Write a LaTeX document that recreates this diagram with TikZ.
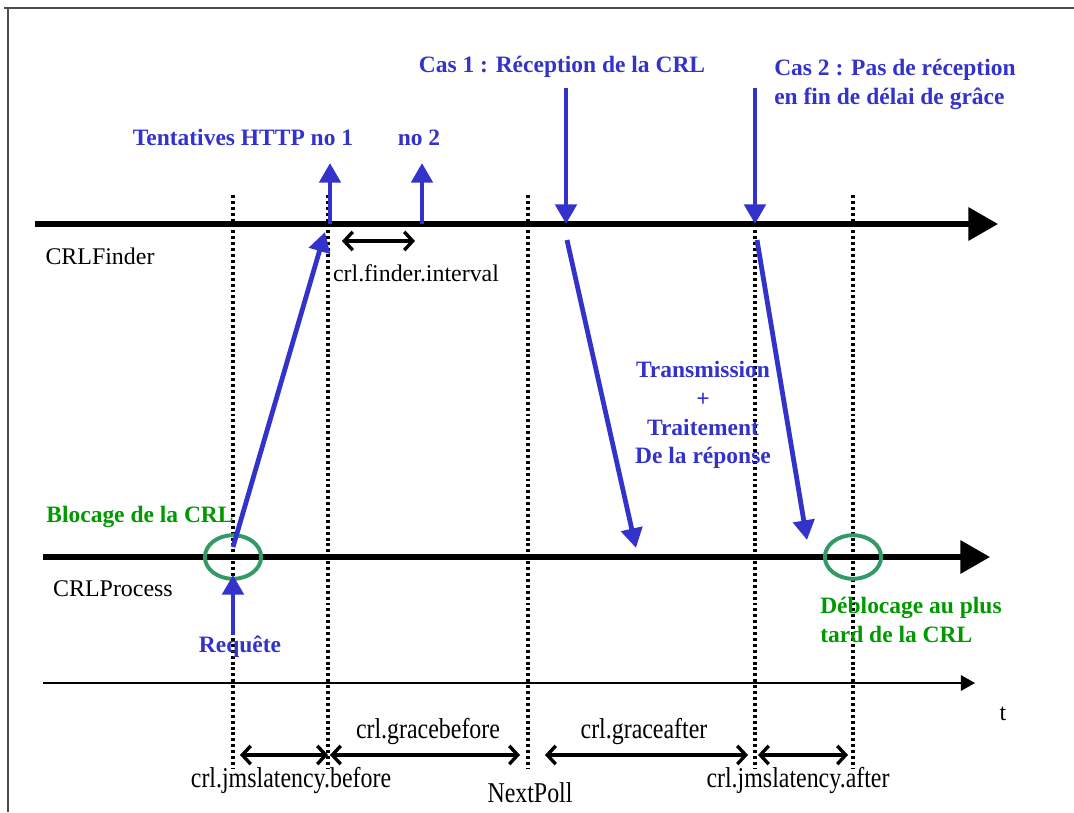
\documentclass[tikz,border=0pt]{standalone}
\usepackage{fontspec}
\setmainfont{Liberation Serif}
\usepackage{graphicx}
\usetikzlibrary{arrows.meta,positioning,shapes.geometric}

\definecolor{crlblue}{RGB}{51,51,204}
\definecolor{crlgreen}{RGB}{0,153,0}
\definecolor{ringgreen}{RGB}{51,153,102}

\newcommand{\tall}[1]{\scalebox{1}[1.2]{#1}}

\begin{document}
\begin{tikzpicture}[
  x=0.025cm, y=-0.025cm,
  every node/.style={
    inner sep=0pt,
  },
  lbl/.style={font=\fontsize{17}{20}\selectfont},
  bleu/.style={font=\bfseries\fontsize{16.7}{20.5}\selectfont, text=crlblue},
  vert/.style={font=\bfseries\fontsize{16.7}{20.5}\selectfont, text=crlgreen},
  ligne/.style={line width=3.6pt, -{Triangle[length=21pt,width=23pt]}},
  axe/.style={line width=1.1pt, -{Triangle[length=10pt,width=11pt]}},
  fleche/.style={crlblue, line width=3.4pt, -{Triangle[length=14pt,width=15pt]}},
  duree/.style={line width=2.4pt, {Straight Barb[length=6pt,width=13pt]}-{Straight Barb[length=6pt,width=13pt]}},
  pointille/.style={line width=2.4pt, dash pattern=on 2.1pt off 2.1pt},
  anneau/.style={draw=ringgreen, line width=2.8pt, ellipse, minimum width=40pt, minimum height=31pt},
]
\useasboundingbox (0,0) rectangle (1074,812);
\draw[black!70, line width=1pt] (4,8) -- (1074,8);
\draw[black!70, line width=1pt] (8,8) -- (8,812);

% lignes de temps
\coordinate (fs) at (35,224);  \coordinate (fe) at (998,224);
\coordinate (ps) at (43,557);  \coordinate (pe) at (990,557);
\coordinate (ts) at (43,683);  \coordinate (te) at (975,683);
\foreach \x/\n in {233/req,328/bef,528/poll,755/aft,853/lim}
  \draw[pointille] (\x,195) coordinate (h\n) -- (\x,768) coordinate (b\n);
\draw[ligne] (fs) -- (fe);
\draw[ligne] (ps) -- (pe);
\draw[axe] (ts) -- (te);

\node[lbl] (finder) at (100,256) {CRLFinder};
\node[lbl] (process) at (113,589) {CRLProcess};
\node[lbl] (t) at (1003,714) {t};

% tentatives HTTP
\coordinate (try1) at (330,224);
\coordinate (try2) at (422,224);
\node[bleu, anchor=base] (http1) at (243,145) {Tentatives HTTP no 1};
\node[bleu, anchor=base] (http2) at (419,145) {no 2};
\draw[fleche] (try1) -- (330,163) coordinate (top1);
\draw[fleche] (try2) -- (422,163) coordinate (top2);
\draw[duree] (342,241) coordinate (i1) -- (415,241) coordinate (i2);
\node[lbl] (interval) at (416,273) {crl.finder.interval};

% requete
\node[anneau] (bloc) at (233,557) {};
\node[anneau] (debloc) at (853,557) {};
\node[vert] (blocage) at (140,517) {Blocage de la CRL};
\node[bleu] (requete) at (240,647) {Requête};
\coordinate (reqbas) at (233,635);
\coordinate (reqhaut) at (233,575);
\draw[fleche] (reqbas) -- (reqhaut);
\coordinate (envoi) at (233,547);
\coordinate (arrivee) at (325,232);
\draw[fleche] (envoi) -- (arrivee);

% cas 1
\node[bleu] (cas1) at (562,67) {Cas 1 : Réception de la CRL};
\coordinate (c1h) at (566,88);
\coordinate (c1b) at (566,224);
\draw[fleche] (c1h) -- (c1b);
\coordinate (c1d) at (567,240);
\coordinate (c1f) at (636,548);
\draw[fleche] (c1d) -- (c1f);

% cas 2
\node[bleu, align=left, anchor=north west] (cas2) at (774,59) {Cas 2 : Pas de réception\\en fin de délai de grâce};
\coordinate (c2h) at (755,88);
\coordinate (c2b) at (755,224);
\draw[fleche] (c2h) -- (c2b);
\coordinate (c2d) at (757,240);
\coordinate (c2f) at (807,540);
\draw[fleche] (c2d) -- (c2f);

\node[bleu, align=center] (traitement) at (703,415) {Transmission\\+\\Traitement\\De la réponse};
\node[vert, align=left, anchor=west] (deblocage) at (820,620) {Déblocage au plus\\tard de la CRL};

% durees
\draw[duree] (240,755) coordinate (d1) -- (328,755) coordinate (d2);
\draw[duree] (330,755) coordinate (d3) -- (520,755) coordinate (d4);
\draw[duree] (545,755) coordinate (d5) -- (748,755) coordinate (d6);
\draw[duree] (758,755) coordinate (d7) -- (848,755) coordinate (d8);
\node[lbl] (gbefore) at (428,731) {\tall{crl.gracebefore}};
\node[lbl] (gafter) at (644,731) {\tall{crl.graceafter}};
\node[lbl] (jbefore) at (291,780) {\tall{crl.jmslatency.before}};
\node[lbl] (poll) at (530,793) {\tall{NextPoll}};
\node[lbl] (jafter) at (798,780) {\tall{crl.jmslatency.after}};
\end{tikzpicture}
\end{document}
